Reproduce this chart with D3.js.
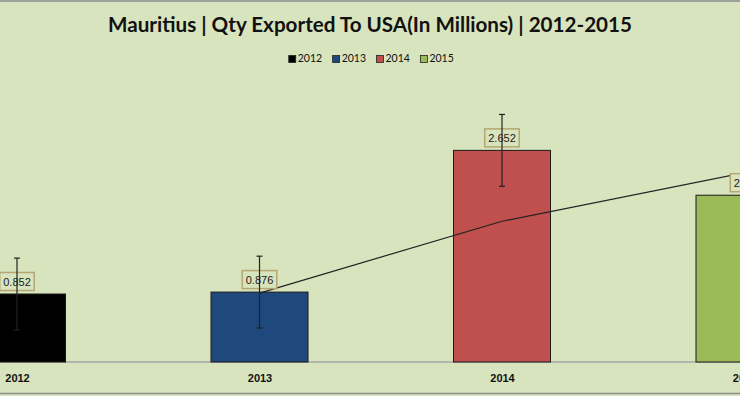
<!DOCTYPE html>
<html>
<head>
<meta charset="utf-8">
<script src="https://cdn.jsdelivr.net/npm/d3@7"></script>
<style>
  html, body { margin: 0; padding: 0; background: #d8e4bd; }
  svg { display: block; }
</style>
</head>
<body>
<svg id="chart" width="740" height="396"></svg>
<script>
// ---- data ----
const years = ["2012", "2013", "2014", "2015"];
const values = [0.852, 0.876, 2.652, 2.09];
const labels = ["0.852", "0.876", "2.652", "2.09"];
const colors = ["#000000", "#1f497d", "#c0504d", "#9bbb59"];
const errorValue = 0.45; // standard error shown as error bars
const title = "Mauritius | Qty Exported To USA(In Millions) | 2012-2015";

// 2-period moving-average trendline
const trend = years.slice(1).map((y, i) => ({ year: y, v: (values[i] + values[i + 1]) / 2 }));

const W = 740, H = 396;
const svg = d3.select("#chart");

svg.append("rect").attr("x", 0).attr("y", 0).attr("width", W).attr("height", H).attr("fill", "#d8e4bd");
// chart border (cropped on left/right)
svg.append("line").attr("x1", 0).attr("x2", W).attr("y1", 1).attr("y2", 1).attr("stroke", "#8c8c8c").attr("stroke-width", 1.5);
svg.append("line").attr("x1", 0).attr("x2", W).attr("y1", 393.5).attr("y2", 393.5).attr("stroke", "#8c8c8c").attr("stroke-width", 1.5);

const x = d3.scalePoint().domain(years).range([17, 744.5]);
const y = d3.scaleLinear().domain([0, 1]).range([362, 282.2]);
const barW = 97;

// title
svg.append("text")
  .attr("x", W / 2).attr("y", 31.5)
  .attr("text-anchor", "middle")
  .attr("font-family", "Lato, 'Liberation Sans', sans-serif")
  .attr("font-weight", "bold")
  .attr("font-size", 21)
  .attr("fill", "#111")
  .attr("textLength", 524)
  .attr("lengthAdjust", "spacingAndGlyphs")
  .text(title);

// legend
const legend = svg.append("g").attr("font-family", "Lato, 'Liberation Sans', sans-serif").attr("font-size", 10.5);
let lx = 0;
const items = [];
years.forEach((yr, i) => {
  const g = legend.append("g");
  g.append("rect").attr("x", lx + 0.5).attr("y", 55.5).attr("width", 7).attr("height", 7)
    .attr("fill", colors[i]).attr("stroke", "#222").attr("stroke-width", 0.8);
  const t = g.append("text").attr("x", lx + 9.5).attr("y", 62).attr("fill", "#111").text(yr);
  const tw = t.node().getComputedTextLength();
  lx += 9.5 + tw + 10;
});
const legW = lx - 10;
legend.attr("transform", `translate(${371 - legW / 2},0)`);

// axis
const axis = svg.append("g").attr("transform", `translate(0,${y(0)})`)
  .call(d3.axisBottom(x).tickSize(0).tickPadding(12));
axis.select(".domain").attr("d", `M0,0H${W}`).attr("stroke", "#a6a6a6").attr("stroke-width", 1.5);
axis.selectAll("text")
  .attr("font-family", "'Liberation Sans', Arial, sans-serif")
  .attr("font-weight", "bold")
  .attr("font-size", 11)
  .attr("fill", "#111");

// bars
svg.append("g").selectAll("rect").data(years).join("rect")
  .attr("x", d => x(d) - barW / 2)
  .attr("y", (d, i) => y(values[i]))
  .attr("width", barW)
  .attr("height", (d, i) => y(0) - y(values[i]))
  .attr("fill", (d, i) => colors[i])
  .attr("stroke", "#1a1a1a")
  .attr("stroke-width", 1);

// trendline
svg.append("path")
  .datum(trend)
  .attr("d", d3.line().x(d => x(d.year)).y(d => y(d.v)))
  .attr("fill", "none")
  .attr("stroke", "#222")
  .attr("stroke-width", 1.2);

// data labels
const lab = svg.append("g").attr("font-family", "'Liberation Sans', Arial, sans-serif").attr("font-size", 11);
years.forEach((yr, i) => {
  const cx = x(yr), top = y(values[i]);
  const g = lab.append("g");
  const t = g.append("text").attr("x", cx).attr("y", top - 8).attr("text-anchor", "middle")
    .attr("fill", "#1a1a1a").text(labels[i]);
  const tw = t.node().getComputedTextLength();
  g.insert("rect", "text").attr("x", cx - tw / 2 - 3.5).attr("y", top - 21.5)
    .attr("width", tw + 7).attr("height", 18)
    .attr("fill", "#d8e4bd").attr("stroke", "#b4a774").attr("stroke-width", 1.5);
});

// error bars
const eb = svg.append("g").attr("stroke", "#222").attr("stroke-width", 1.2);
years.forEach((yr, i) => {
  const cx = x(yr);
  const y1 = y(values[i] + errorValue), y2 = y(values[i] - errorValue);
  eb.append("line").attr("x1", cx).attr("x2", cx).attr("y1", y1).attr("y2", y2);
  eb.append("line").attr("x1", cx - 3).attr("x2", cx + 3).attr("y1", y1).attr("y2", y1);
  eb.append("line").attr("x1", cx - 3).attr("x2", cx + 3).attr("y1", y2).attr("y2", y2);
});
</script>
</body>
</html>
